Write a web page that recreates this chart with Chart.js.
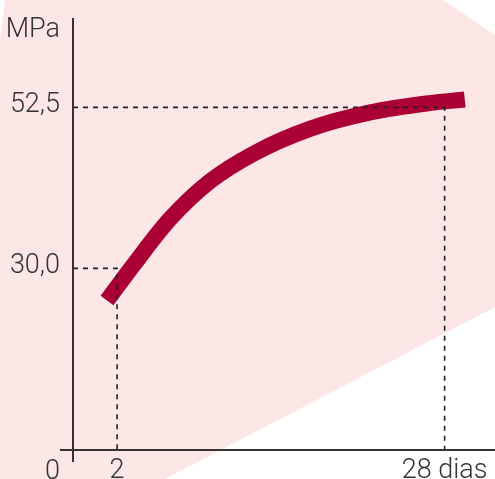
<!DOCTYPE html>
<html>
<head>
<meta charset="utf-8">
<script src="https://cdn.jsdelivr.net/npm/chart.js@4.4.0/dist/chart.umd.min.js"></script>
<style>
  html, body { margin: 0; padding: 0; background: #fff; }
  #wrap { width: 495px; height: 479px; }
</style>
</head>
<body>
<div id="wrap"><canvas id="chart" width="495" height="479"></canvas></div>
<script>
// curve (days, MPa)
const days = [1.2, 3.4, 6.2, 9.4, 12.9, 17.3, 22.1, 26.8, 29.6];
const strength = [25.5, 30.7, 36.9, 42.2, 46.1, 49.5, 51.8, 53.1, 53.6];

// reference marks
const refDays = [2, 28];
const refValues = [30, 52.5];
const xTickLabels = ['2', '28 dias'];
const yTickLabels = ['30,0', '52,5'];
const unitLabel = 'MPa';
const originLabel = '0';

const X_MIN = -1.5, X_MAX = 32;
const Y_MIN = 4.6, Y_MAX = 65;

const FONT = { family: 'Roboto', size: 27, weight: '300' };
const TEXT = '#333';
const CURVE = '#ab0033';

const points = days.map((d, i) => ({ x: d, y: strength[i] }));

// dashed guide for each reference pair
const guides = refDays.map((d, i) => ({
    data: [{ x: X_MIN, y: refValues[i] }, { x: d, y: refValues[i] }, { x: d, y: Y_MIN }],
    borderColor: '#222',
    borderWidth: 1.6,
    borderDash: [5, 5],
    pointRadius: 0,
    fill: false,
    tension: 0
}));

// pink backdrop + hand-drawn axes
const decor = {
    id: 'decor',
    beforeDraw(chart) {
        const ctx = chart.ctx;
        ctx.save();
        ctx.fillStyle = '#fce6e6';
        ctx.beginPath();
        ctx.moveTo(5, 0);
        ctx.lineTo(443, 0);
        ctx.lineTo(495, 35);
        ctx.lineTo(495, 307);
        ctx.lineTo(165, 479);
        ctx.lineTo(0, 479);
        ctx.lineTo(0, 40);
        ctx.closePath();
        ctx.fill();
        ctx.restore();
    },
    afterDatasetsDraw(chart) {
        const ctx = chart.ctx;
        const a = chart.chartArea;
        ctx.save();
        ctx.strokeStyle = '#333';
        ctx.lineWidth = 2;
        ctx.beginPath();
        ctx.moveTo(a.left, a.top);
        ctx.lineTo(a.left, a.bottom + 12);
        ctx.moveTo(a.left - 13, a.bottom);
        ctx.lineTo(a.right, a.bottom);
        ctx.stroke();

        ctx.fillStyle = TEXT;
        ctx.font = `${FONT.weight} ${FONT.size}px ${FONT.family}`;
        ctx.textAlign = 'right';
        ctx.textBaseline = 'alphabetic';
        ctx.fillText(unitLabel, a.left - 13, a.top + 19);
        ctx.fillText(originLabel, a.left - 13, a.bottom + 29);
        ctx.restore();
    }
};

new Chart(document.getElementById('chart'), {
    type: 'line',
    data: {
        datasets: [
            ...guides,
            {
                data: points,
                borderColor: CURVE,
                borderWidth: 16,
                borderCapStyle: 'butt',
                pointRadius: 0,
                cubicInterpolationMode: 'monotone',
                fill: false
            }
        ]
    },
    options: {
        responsive: false,
        animation: false,
        layout: { padding: { top: 18, right: 0, left: 0, bottom: 0 } },
        plugins: { legend: { display: false }, tooltip: { enabled: false } },
        scales: {
            x: {
                type: 'linear',
                min: X_MIN,
                max: X_MAX,
                grid: { display: false, drawTicks: false },
                border: { display: false },
                afterBuildTicks: s => { s.ticks = refDays.map(v => ({ value: v })); },
                afterFit: s => { s.height = 29; s.paddingLeft = 0; s.paddingRight = 0; },
                ticks: {
                    autoSkip: false,
                    maxRotation: 0,
                    padding: 5,
                    color: TEXT,
                    font: FONT,
                    callback: (v) => xTickLabels[refDays.indexOf(v)]
                }
            },
            y: {
                type: 'linear',
                min: Y_MIN,
                max: Y_MAX,
                grid: { display: false, drawTicks: false },
                border: { display: false },
                afterBuildTicks: s => { s.ticks = refValues.map(v => ({ value: v })); },
                afterFit: s => { s.width = 73; s.paddingTop = 0; s.paddingBottom = 0; },
                ticks: {
                    autoSkip: false,
                    padding: 13,
                    labelOffset: -2,
                    color: TEXT,
                    font: FONT,
                    callback: (v) => yTickLabels[refValues.indexOf(v)]
                }
            }
        }
    },
    plugins: [decor]
});
</script>
</body>
</html>
